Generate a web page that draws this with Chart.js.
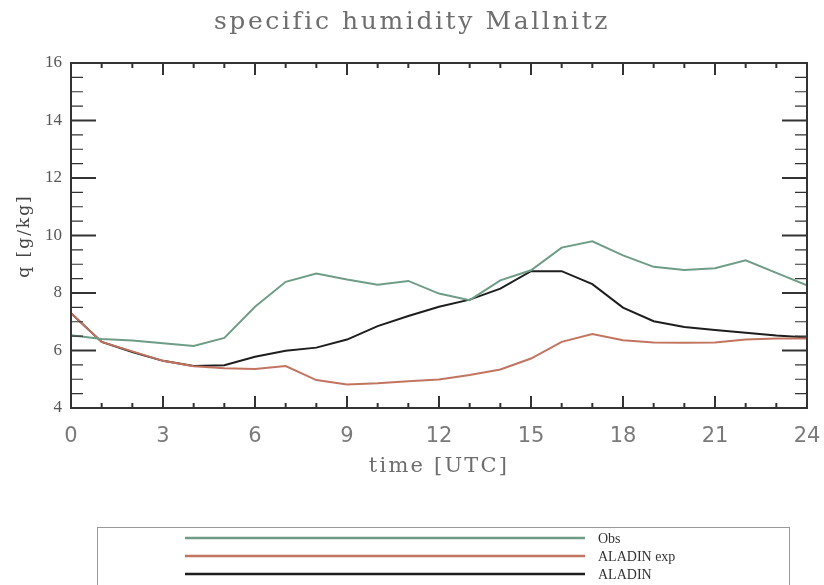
<!DOCTYPE html>
<html>
<head>
<meta charset="utf-8">
<script src="https://cdn.jsdelivr.net/npm/chart.js@4/dist/chart.umd.min.js"></script>
<style>
  html, body { margin: 0; padding: 0; background: #fff; }
  #wrap { width: 824px; height: 585px; }
</style>
</head>
<body>
<div id="wrap"><canvas id="chart" width="824" height="585"></canvas></div>
<script>
// hours 0..24 UTC
const hours = [0,1,2,3,4,5,6,7,8,9,10,11,12,13,14,15,16,17,18,19,20,21,22,23,24];
const obs = [6.53,6.40,6.35,6.25,6.16,6.44,7.52,8.39,8.68,8.47,8.29,8.42,7.98,7.75,8.44,8.79,9.58,9.80,9.31,8.91,8.80,8.86,9.14,8.70,8.27];
const aladinExp = [7.30,6.30,5.97,5.64,5.45,5.38,5.36,5.46,4.97,4.82,4.86,4.93,4.99,5.15,5.34,5.72,6.30,6.57,6.36,6.28,6.27,6.28,6.38,6.42,6.42];
const aladin = [7.30,6.30,5.95,5.64,5.46,5.49,5.78,5.99,6.10,6.38,6.85,7.20,7.52,7.77,8.15,8.76,8.76,8.31,7.49,7.02,6.82,6.71,6.62,6.52,6.45];

const xTicks = [0,3,6,9,12,15,18,21,24];
const yTicks = [4,6,8,10,12,14,16];

const titleText = 'specific humidity Mallnitz';
const xTitle = 'time [UTC]';
const yTitle = 'q [g/kg]';

function toPoints(values) {
  return hours.map((h, i) => ({ x: h, y: values[i] }));
}

// inward tick marks on all four sides plus the frame
const frameTicks = {
  id: 'frameTicks',
  afterDraw(chart) {
    const { ctx, chartArea: a } = chart;
    const xs = chart.scales.x, ys = chart.scales.y;
    ctx.save();
    ctx.strokeStyle = '#333';
    ctx.lineWidth = 2;
    ctx.beginPath();
    for (let h = xs.min; h <= xs.max; h++) {
      const px = xs.getPixelForValue(h);
      const len = (h % 3 === 0) ? 12 : 5;
      ctx.moveTo(px, a.bottom); ctx.lineTo(px, a.bottom - len);
      ctx.moveTo(px, a.top); ctx.lineTo(px, a.top + len);
    }
    ctx.stroke();
    for (let v = ys.min; v <= ys.max + 0.001; v += 0.5) {
      const py = ys.getPixelForValue(v);
      const major = Math.abs(v % 2) < 0.001;
      const len = major ? 25 : 12;
      ctx.lineWidth = major ? 2.2 : 1.2;
      ctx.beginPath();
      ctx.moveTo(a.left, py); ctx.lineTo(a.left + len, py);
      ctx.moveTo(a.right, py); ctx.lineTo(a.right - len, py);
      ctx.stroke();
    }
    ctx.lineWidth = 2;
    ctx.strokeRect(a.left, a.top, a.right - a.left, a.bottom - a.top);
    ctx.restore();
  }
};

// titles drawn with the wide letter spacing of the original
const spacedTitles = {
  id: 'spacedTitles',
  afterDraw(chart) {
    const { ctx, chartArea: a } = chart;
    ctx.save();
    ctx.textAlign = 'center';
    ctx.textBaseline = 'middle';

    ctx.letterSpacing = '2.6px';
    ctx.fillStyle = '#6e6e6e';
    ctx.font = '25px "DejaVu Serif"';
    ctx.fillText(titleText, chart.width / 2, 22);

    ctx.letterSpacing = '2.2px';
    ctx.font = '21px "DejaVu Serif"';
    ctx.fillText(xTitle, (a.left + a.right) / 2, 467);

    ctx.letterSpacing = '2px';
    ctx.fillStyle = '#444';
    ctx.font = '17px "DejaVu Serif"';
    ctx.translate(25, 236);
    ctx.rotate(-Math.PI / 2);
    ctx.fillText(yTitle, 0, 0);
    ctx.restore();
  }
};

// legend box under the plot
const boxLegend = {
  id: 'boxLegend',
  afterDraw(chart) {
    const { ctx } = chart;
    ctx.save();
    ctx.strokeStyle = '#999';
    ctx.lineWidth = 1;
    ctx.strokeRect(97.5, 527.5, 692, 80);
    ctx.font = '14px "Liberation Serif"';
    ctx.textBaseline = 'middle';
    ctx.fillStyle = '#333';
    chart.data.datasets.forEach((ds, i) => {
      const y = 538 + i * 18;
      ctx.strokeStyle = ds.borderColor;
      ctx.lineWidth = 2.5;
      ctx.beginPath();
      ctx.moveTo(185, y); ctx.lineTo(585, y);
      ctx.stroke();
      ctx.fillText(ds.label, 598, y + 1);
    });
    ctx.restore();
  }
};

new Chart(document.getElementById('chart'), {
  type: 'line',
  data: {
    datasets: [
      { label: 'Obs', data: toPoints(obs), borderColor: '#6f9c86' },
      { label: 'ALADIN exp', data: toPoints(aladinExp), borderColor: '#c27460' },
      { label: 'ALADIN', data: toPoints(aladin), borderColor: '#1e1e1e' }
    ]
  },
  options: {
    responsive: false,
    animation: false,
    layout: { padding: { left: 0, right: 17, top: 63, bottom: 105 } },
    elements: {
      line: { borderWidth: 2, tension: 0 },
      point: { radius: 0 }
    },
    plugins: {
      legend: { display: false },
      tooltip: { enabled: false },
      title: { display: false }
    },
    scales: {
      x: {
        type: 'linear',
        min: 0,
        max: 24,
        afterBuildTicks: (s) => { s.ticks = xTicks.map(v => ({ value: v })); },
        afterFit: (s) => { s.height = 72; s.paddingLeft = 0; s.paddingRight = 0; },
        grid: { display: false, drawTicks: false },
        border: { display: false },
        ticks: {
          padding: 16,
          color: '#7a7a7a',
          font: { family: '"DejaVu Sans"', size: 21 },
          maxRotation: 0
        }
      },
      y: {
        min: 4,
        max: 16,
        afterBuildTicks: (s) => { s.ticks = yTicks.map(v => ({ value: v })); },
        afterFit: (s) => { s.width = 71; s.paddingTop = 0; s.paddingBottom = 0; },
        grid: { display: false, drawTicks: false },
        border: { display: false },
        ticks: {
          padding: 9,
          color: '#555',
          font: { family: '"Liberation Serif"', size: 17 }
        }
      }
    }
  },
  plugins: [frameTicks, spacedTitles, boxLegend]
});
</script>
</body>
</html>
